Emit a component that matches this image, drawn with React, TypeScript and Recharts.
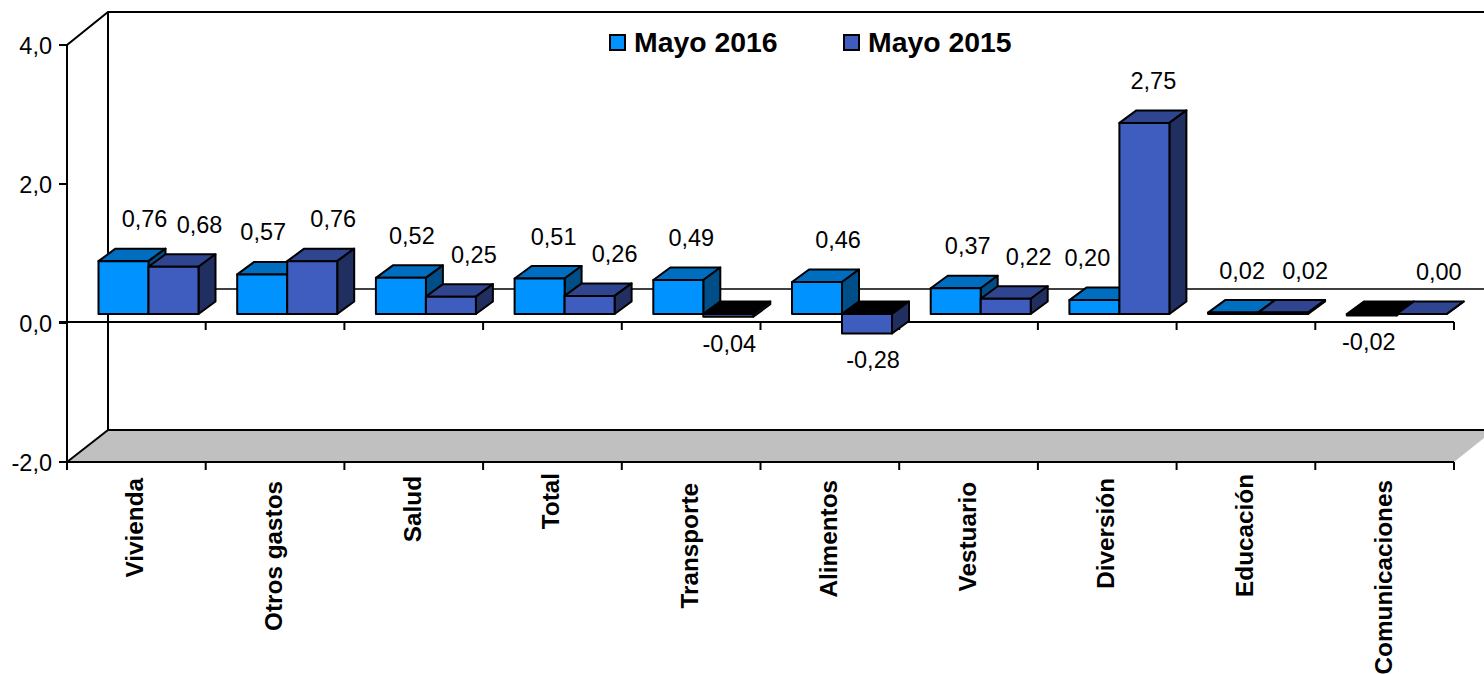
import React from "react";
import { BarChart, Bar, XAxis, YAxis, Legend, LabelList } from "recharts";

const categories = ["Vivienda", "Otros gastos", "Salud", "Total", "Transporte", "Alimentos", "Vestuario", "Diversión", "Educación", "Comunicaciones"];
const mayo2016 = [0.76, 0.57, 0.52, 0.51, 0.49, 0.46, 0.37, 0.2, 0.02, -0.02];
const mayo2015 = [0.68, 0.76, 0.25, 0.26, -0.04, -0.28, 0.22, 2.75, 0.02, 0.0];
const yTicks = [-2, 0, 2, 4];

const rows = categories.map((name, i) => ({ name, a: mayo2016[i], b: mayo2015[i] }));

const FONT = '"Liberation Sans", Arial, sans-serif';
const W = 1484, H = 674;
const L = 67, R = 1454, T = 45, B = 462, ZERO = 322;
const DX = 41, DY = 32;
const SHIFT_X = 12.5, SHIFT_Y = -9, DEPTH_X = 17, DEPTH_Y = 12.5;
const LABEL_SIZE = 23.5;

const nudge2016 = [21, 1, 11, 14, 13, 21, 12, -7, 9, -3];
const nudge2015 = [26, 21, 23, 25, 1, 6, 23, 9, 22, 17];
const tickTop = [478, 481, 476, 473, 483, 480, 482, 478, 474, 480];

const palette2016 = { front: "#0092FF", top: "#006EC0", side: "#004E88" };
const palette2015 = { front: "#3F5CBF", top: "#2F458F", side: "#202E60" };

function prism(palette: typeof palette2016) {
  return (props: any) => {
    const { x, y, width, height, value } = props;
    const raw = Array.isArray(value) ? value[1] - value[0] : value;
    const v = raw ?? props.payload?.value;
    const yA = Math.min(y, y + height) + SHIFT_Y;
    const yB = Math.max(y, y + height) + SHIFT_Y;
    const x0 = x + SHIFT_X;
    const x1 = x0 + width;
    const stroke = { stroke: "#000", strokeWidth: 2, strokeLinejoin: "round" as const };
    return (
      <g>
        <polygon points={`${x0},${yA} ${x0 + DEPTH_X},${yA - DEPTH_Y} ${x1 + DEPTH_X},${yA - DEPTH_Y} ${x1},${yA}`} fill={v < 0 ? "#000" : palette.top} {...stroke} />
        <polygon points={`${x1},${yA} ${x1 + DEPTH_X},${yA - DEPTH_Y} ${x1 + DEPTH_X},${yB - DEPTH_Y} ${x1},${yB}`} fill={palette.side} {...stroke} />
        <rect x={x0} y={yA} width={width} height={yB - yA} fill={palette.front} {...stroke} />
      </g>
    );
  };
}

function valueLabel(nudges: number[], values: number[]) {
  return (props: any) => {
    const { x, y, width, height, index } = props;
    const v = values[index];
    const edge = v < 0 ? Math.max(y, y + height) : Math.min(y, y + height);
    return (
      <text
        x={x + width / 2 + SHIFT_X + nudges[index]}
        y={edge + (v < 0 ? 18 : -51)}
        textAnchor="middle"
        dominantBaseline="central"
        fontFamily={FONT}
        fontSize={LABEL_SIZE}
        fill="#000"
      >
        {v.toFixed(2).replace(".", ",")}
      </text>
    );
  };
}

const CategoryTick = (props: any) => {
  const { x, payload, index } = props;
  const top = tickTop[index ?? payload.index] ?? 478;
  return (
    <text
      transform={`translate(${x - 1.5},${top}) rotate(-90)`}
      textAnchor="end"
      dominantBaseline="central"
      fontFamily={FONT}
      fontSize={24.3}
      fontWeight="bold"
      fill="#000"
    >
      {payload.value}
    </text>
  );
};

const ValueTick = (props: any) => {
  const { y, payload } = props;
  return (
    <text x={52} y={y + 1} textAnchor="end" dominantBaseline="central" fontFamily={FONT} fontSize={LABEL_SIZE} fill="#000">
      {payload.value.toFixed(1).replace(".", ",")}
    </text>
  );
};

const legendItems = [
  { label: "Mayo 2016", color: palette2016.front, left: 0 },
  { label: "Mayo 2015", color: palette2015.front, left: 234 },
];

const LegendBox = () => (
  <div style={{ position: "relative", width: 420, height: 40, fontFamily: FONT, fontWeight: "bold", fontSize: 28.4, color: "#000" }}>
    {legendItems.map((it) => (
      <div key={it.label} style={{ position: "absolute", left: it.left, top: 0, display: "flex", alignItems: "center", height: 40, whiteSpace: "nowrap" }}>
        <span style={{ display: "inline-block", width: 13, height: 13, background: it.color, border: "2px solid #000", marginRight: 8 }} />
        {it.label}
      </div>
    ))}
  </div>
);

const step = (R - L) / categories.length;
const tickXs = Array.from({ length: categories.length + 1 }, (_, i) => L + i * step);

const Frame = () => (
  <g>
    <polygon points={`${L},${B} ${L + DX},${B - DY} ${W + 10},${B - DY} ${R},${B}`} fill="#C0C0C0" />
    <g stroke="#000" strokeWidth={2} fill="none">
      <polyline points={`${L},${B} ${L},${T} ${L + DX},${T - DY - 1} ${W},${T - DY - 1}`} />
      <line x1={L + DX} y1={T - DY - 1} x2={L + DX} y2={B - DY} />
      <line x1={L + DX} y1={B - DY} x2={L} y2={B} />
      <line x1={L + DX} y1={B - DY} x2={W} y2={B - DY} />
      <line x1={L + DX} y1={ZERO - DY - 1} x2={W} y2={ZERO - DY - 1} strokeWidth={1.5} />
      <line x1={L - 8} y1={B} x2={R} y2={B} />
      <line x1={L - 8} y1={ZERO} x2={R} y2={ZERO} />
      {yTicks.map((t) => (
        <line key={t} x1={L - 8} x2={L} y1={T + ((4 - t) * (B - T)) / 6} y2={T + ((4 - t) * (B - T)) / 6} />
      ))}
      {tickXs.map((x) => (
        <g key={x}>
          <line x1={x} x2={x} y1={B} y2={B + 8} />
          <line x1={x} x2={x} y1={ZERO} y2={ZERO + 8} />
        </g>
      ))}
    </g>
  </g>
);

export default function App() {
  return (
    <div style={{ position: "absolute", left: 0, top: 0, width: W, height: H, overflow: "hidden", background: "#fff" }}>
      <BarChart
        width={W}
        height={H}
        data={rows}
        margin={{ top: T, right: W - R, bottom: 0, left: 0 }}
        barSize={50}
        barGap={0}
      >
        <Frame />
        <XAxis dataKey="name" height={H - B} interval={0} axisLine={false} tickLine={false} tick={<CategoryTick />} />
        <YAxis width={L} domain={[-2, 4]} ticks={yTicks} axisLine={false} tickLine={false} tick={<ValueTick />} />
        <Legend layout="horizontal" verticalAlign="middle" align="center" wrapperStyle={{ left: 609, top: 22, width: 420 }} content={<LegendBox />} />
        <Bar dataKey="a" name="Mayo 2016" shape={prism(palette2016)} isAnimationActive={false}>
          <LabelList dataKey="a" content={valueLabel(nudge2016, mayo2016)} />
        </Bar>
        <Bar dataKey="b" name="Mayo 2015" shape={prism(palette2015)} isAnimationActive={false}>
          <LabelList dataKey="b" content={valueLabel(nudge2015, mayo2015)} />
        </Bar>
      </BarChart>
    </div>
  );
}
